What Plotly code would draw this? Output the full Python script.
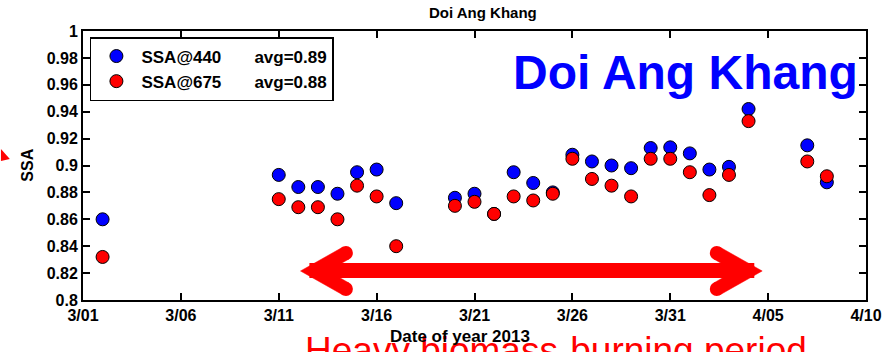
import plotly.graph_objects as go

# ---------------- data ----------------
dates = ["2013-03-02", "2013-03-05", "2013-03-11", "2013-03-12", "2013-03-13", "2013-03-14",
         "2013-03-15", "2013-03-16", "2013-03-17", "2013-03-20", "2013-03-21", "2013-03-22",
         "2013-03-23", "2013-03-24", "2013-03-25", "2013-03-26", "2013-03-27", "2013-03-28",
         "2013-03-29", "2013-03-30", "2013-03-31", "2013-04-01", "2013-04-02", "2013-04-03",
         "2013-04-04", "2013-04-07", "2013-04-08"]
ssa440 = [0.860, 0.972, 0.893, 0.884, 0.884, 0.879, 0.895, 0.897, 0.872, 0.876, 0.879, 0.864,
          0.895, 0.887, 0.880, 0.908, 0.903, 0.900, 0.898, 0.913, 0.9135, 0.909, 0.897, 0.899,
          0.942, 0.915, 0.8875]
ssa675 = [0.832, 0.958, 0.875, 0.869, 0.869, 0.860, 0.885, 0.877, 0.840, 0.870, 0.873, 0.864,
          0.877, 0.874, 0.879, 0.905, 0.890, 0.885, 0.877, 0.905, 0.905, 0.895, 0.878, 0.893,
          0.933, 0.903, 0.892]

x_tick_vals = ["2013-03-01", "2013-03-06", "2013-03-11", "2013-03-16", "2013-03-21",
               "2013-03-26", "2013-03-31", "2013-04-05", "2013-04-10"]
x_tick_text = ["3/01", "3/06", "3/11", "3/16", "3/21", "3/26", "3/31", "4/05", "4/10"]
y_tick_vals = [0.8, 0.82, 0.84, 0.86, 0.88, 0.9, 0.92, 0.94, 0.96, 0.98, 1.0]
y_tick_text = ["0.8", "0.82", "0.84", "0.86", "0.88", "0.9", "0.92", "0.94", "0.96", "0.98", "1"]

name440 = "SSA@440"
name675 = "SSA@675"
avg440 = "avg=0.89"
avg675 = "avg=0.88"

# ---------------- layout geometry ----------------
W, H = 894, 352
L, R, T, B = 83, 19, 31, 52
PW, PH = W - L - R, H - T - B
FONT = "Liberation Sans, Arial, Helvetica, sans-serif"


def px(x):
    return (x - L) / PW


def py(y):
    return (H - B - y) / PH


gap = "\u00a0" * 7
fig = go.Figure()
fig.add_trace(go.Scatter(
    x=dates, y=ssa440, mode="markers", name=f"<b>{name440}{gap}{avg440}</b>",
    marker=dict(color="#0000FF", size=13, line=dict(color="black", width=1))))
fig.add_trace(go.Scatter(
    x=dates, y=ssa675, mode="markers", name=f"<b>{name675}{gap}{avg675}</b>",
    marker=dict(color="#FF0000", size=13, line=dict(color="black", width=1))))

axis_common = dict(showline=True, linecolor="black", linewidth=2, mirror="ticks",
                   ticks="inside", ticklen=7, tickwidth=2, tickcolor="black",
                   showgrid=False, zeroline=False,
                   tickfont=dict(family=FONT, size=16, color="black", weight="bold"))

fig.update_xaxes(type="date", range=["2013-03-01", "2013-04-10"],
                 tickvals=x_tick_vals, ticktext=x_tick_text, **axis_common)
fig.update_yaxes(range=[0.8, 1.0], tickvals=y_tick_vals, ticktext=y_tick_text, **axis_common)


def poly(points):
    return "M " + " L ".join(f"{px(a):.5f},{py(b):.5f}" for a, b in points) + " Z"


red = "#FF0000"
shapes = []
# shaft
shapes.append(dict(type="rect", xref="paper", yref="paper",
                   x0=px(312), x1=px(762), y0=py(278), y1=py(263),
                   fillcolor=red, line=dict(width=0)))

# chevron heads (left defined, right mirrored about the shaft centre)
left_head = [(303, 271), (346, 247), (352, 259), (331, 271), (352, 283), (346, 295)]
caps = [(349, 253), (349, 289)]
mirror = 303 + 770
for sgn in (1, -1):
    pts = [(a if sgn == 1 else mirror - a, b) for a, b in left_head]
    shapes.append(dict(type="path", xref="paper", yref="paper", path=poly(pts),
                       fillcolor=red, line=dict(color=red, width=0.5)))
    for cx, cy in caps:
        cx2 = cx if sgn == 1 else mirror - cx
        shapes.append(dict(type="circle", xref="paper", yref="paper",
                           x0=px(cx2 - 7), x1=px(cx2 + 7), y0=py(cy + 7), y1=py(cy - 7),
                           fillcolor=red, line=dict(color=red, width=0)))

# small red fragment at left edge
shapes.append(dict(type="path", xref="paper", yref="paper",
                   path=poly([(0, 149), (9, 159), (0, 161)]),
                   fillcolor=red, line=dict(color=red, width=0)))

annotations = [
    dict(text="<b>Doi Ang Khang</b>", xref="paper", yref="paper", x=px(488), y=py(12),
         xanchor="center", yanchor="middle", showarrow=False,
         font=dict(family=FONT, size=15, color="black")),
    dict(text="<b>Doi Ang Khang</b>", xref="paper", yref="paper", x=px(692), y=py(72),
         xanchor="center", yanchor="middle", showarrow=False,
         font=dict(family=FONT, size=48, color="#0000FF")),
    dict(text="Heavy biomass-burning period", xref="paper", yref="paper", x=px(561), y=py(350),
         xanchor="center", yanchor="middle", showarrow=False,
         font=dict(family=FONT, size=37, color=red)),
    dict(text="<b>Date of year 2013</b>", xref="paper", yref="paper", x=px(464), y=py(336),
         xanchor="center", yanchor="middle", showarrow=False,
         font=dict(family=FONT, size=17, color="black")),
    dict(text="<b>SSA</b>", xref="paper", yref="paper", x=px(26), y=py(165),
         xanchor="center", yanchor="middle", showarrow=False, textangle=-90,
         font=dict(family=FONT, size=16, color="black")),
]

fig.update_layout(
    width=W, height=H, margin=dict(l=L, r=R, t=T, b=B, pad=0),
    paper_bgcolor="white", plot_bgcolor="white",
    font=dict(family=FONT, color="black"),
    showlegend=True,
    legend=dict(x=px(90), y=py(37), xanchor="left", yanchor="top",
                bgcolor="white", bordercolor="black", borderwidth=1.5,
                font=dict(family=FONT, size=17, color="black"),
                itemwidth=40, tracegroupgap=0),
    shapes=shapes, annotations=annotations,
)

fig.write_html("out.html")
